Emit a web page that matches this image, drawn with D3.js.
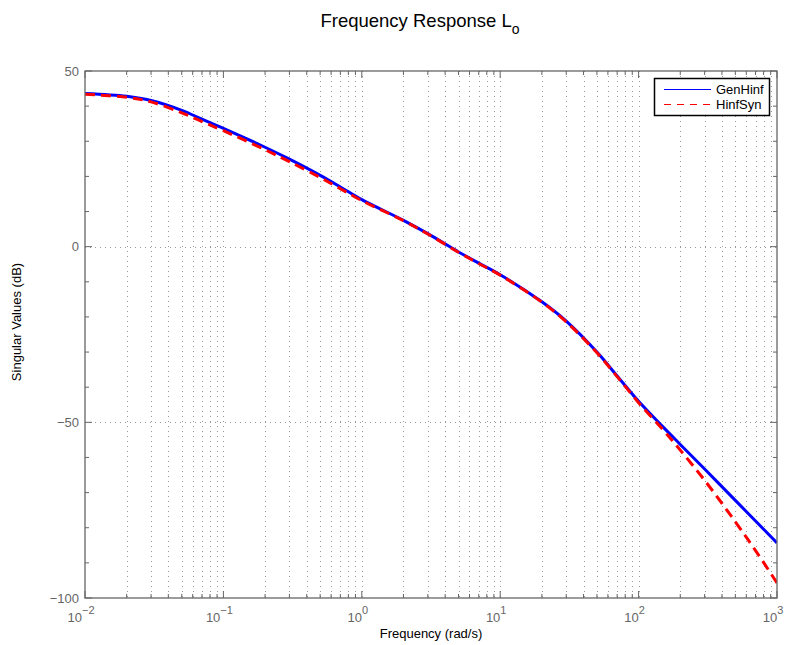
<!DOCTYPE html>
<html><head><meta charset="utf-8">
<script src="https://cdn.jsdelivr.net/npm/d3@7"></script>
<style>body{margin:0;background:#fff}svg{display:block}text{font-family:"Liberation Sans",Arial,sans-serif}</style>
</head><body><svg id="c" width="785" height="645"></svg>
<script>
const freq = [0.01,0.02,0.03,0.05,0.07,0.1,0.2,0.3,0.5,0.7,1,2,3,5,7,10,20,30,50,70,100,150,200,300,500,700,1000];
const genHinf = [43.6,42.8,41.6,38.8,36.3,33.7,28.3,24.9,20.3,17.0,13.4,7.5,3.7,-1.5,-4.7,-8.0,-15.7,-21.2,-30.0,-36.8,-44.0,-51.3,-56.3,-63.3,-72.2,-78.1,-84.3];
const hinfSyn = [43.4,42.5,41.2,38.1,35.6,33.0,27.6,24.2,19.7,16.5,13.1,7.4,3.6,-1.6,-4.8,-8.1,-15.8,-21.4,-30.2,-37.0,-44.4,-52.1,-57.9,-66.5,-78.3,-86.5,-95.7];
const xMajor = [0.01,0.1,1,10,100,1000];
const xExp = ["-2","-1","0","1","2","3"];
const yTicks = [50,0,-50,-100];
const seriesNames = ["GenHinf","HinfSyn"];

const svg = d3.select("#c");
const L=85,R=777,T=71,B=598;
const x = d3.scaleLog().domain([0.01,1000]).range([L,R]);
const y = d3.scaleLinear().domain([-100,50]).range([B,T]);
const axisCol="#666", txtCol="#666";

const xMinor=[];
for(let d=-2; d<3; d++) for(let k=2;k<=9;k++) xMinor.push(k*Math.pow(10,d));

// grid
const g = svg.append("g");
g.selectAll("line.vg").data(xMinor.concat(xMajor.slice(1,-1))).enter().append("line")
  .attr("x1",d=>Math.round(x(d))+0.5).attr("x2",d=>Math.round(x(d))+0.5).attr("y1",T).attr("y2",B)
  .attr("stroke","#999").attr("stroke-width",1).attr("stroke-dasharray","1,4");
g.selectAll("line.hg").data([0,-50]).enter().append("line")
  .attr("x1",L).attr("x2",R).attr("y1",d=>Math.round(y(d))+0.5).attr("y2",d=>Math.round(y(d))+0.5)
  .attr("stroke","#999").attr("stroke-width",1).attr("stroke-dasharray","1,4");

// curves
const line = d3.line().x((d,i)=>x(freq[i])).y(d=>y(d)).curve(d3.curveCatmullRom.alpha(0.5));
svg.append("clipPath").attr("id","cp").append("rect").attr("x",L).attr("y",T).attr("width",R-L).attr("height",B-T);
svg.append("path").attr("d",line(genHinf)).attr("fill","none").attr("stroke","#0000ff").attr("stroke-width",3).attr("clip-path","url(#cp)");
svg.append("path").attr("d",line(hinfSyn)).attr("fill","none").attr("stroke","#ff0000").attr("stroke-width",3).attr("stroke-dasharray","10,6").attr("clip-path","url(#cp)");

// axes box
svg.append("rect").attr("x",L).attr("y",T).attr("width",R-L).attr("height",B-T).attr("fill","none").attr("stroke",axisCol).attr("stroke-width",1.3);

// ticks
const tk = svg.append("g").attr("stroke",axisCol).attr("stroke-width",1);
xMajor.forEach(v=>{tk.append("line").attr("x1",x(v)).attr("x2",x(v)).attr("y1",B).attr("y2",B-7);
  tk.append("line").attr("x1",x(v)).attr("x2",x(v)).attr("y1",T).attr("y2",T+7);});
xMinor.forEach(v=>{tk.append("line").attr("x1",x(v)).attr("x2",x(v)).attr("y1",B).attr("y2",B-4);
  tk.append("line").attr("x1",x(v)).attr("x2",x(v)).attr("y1",T).attr("y2",T+4);});
yTicks.forEach(v=>{tk.append("line").attr("x1",L).attr("x2",L+7).attr("y1",y(v)).attr("y2",y(v));
  tk.append("line").attr("x1",R).attr("x2",R-7).attr("y1",y(v)).attr("y2",y(v));});
d3.range(-90,50,10).filter(v=>v%50!==0).forEach(v=>{tk.append("line").attr("x1",L).attr("x2",L+4).attr("y1",y(v)).attr("y2",y(v));
  tk.append("line").attr("x1",R).attr("x2",R-4).attr("y1",y(v)).attr("y2",y(v));});

// tick labels
svg.selectAll("text.yt").data(yTicks).enter().append("text")
  .attr("x",L-6).attr("y",d=>y(d)+4.5).attr("text-anchor","end").attr("font-size",13).attr("fill",txtCol)
  .text(d=>d<0?"\u2212"+Math.abs(d):d);
xMajor.forEach((v,i)=>{
  const t=svg.append("text").attr("x",x(v)-4).attr("y",622).attr("text-anchor","middle").attr("font-size",13).attr("fill",txtCol);
  t.append("tspan").text("10");
  t.append("tspan").attr("dy",-8).attr("font-size",11).text(xExp[i].replace("-","\u2212"));
});

// labels
svg.append("text").attr("x",431).attr("y",638).attr("text-anchor","middle").attr("font-size",13).attr("fill","#000").text("Frequency (rad/s)");
svg.append("text").attr("transform","translate(21,322) rotate(-90)").attr("text-anchor","middle").attr("font-size",13).attr("fill","#000").text("Singular Values (dB)");
const tt=svg.append("text").attr("x",420).attr("y",27).attr("text-anchor","middle").attr("font-size",18.5).attr("fill","#000");
tt.append("tspan").text("Frequency Response L");
tt.append("tspan").attr("dy",7).attr("font-size",14).text("o");

// legend
const lg=svg.append("g");
lg.append("rect").attr("x",654.5).attr("y",78.5).attr("width",115).attr("height",37).attr("fill","#fff").attr("stroke","#000").attr("stroke-width",1.5);
const cols=["#0000ff","#ff0000"], dashes=["none","7,6"];
seriesNames.forEach((n,i)=>{
  const yy=89.5+i*15;
  lg.append("line").attr("x1",664).attr("x2",711).attr("y1",yy).attr("y2",yy).attr("stroke",cols[i]).attr("stroke-width",1.2).attr("stroke-dasharray",dashes[i]);
  lg.append("text").attr("x",716).attr("y",yy+4.5).attr("font-size",13).attr("fill","#000").text(n);
});
</script></body></html>
